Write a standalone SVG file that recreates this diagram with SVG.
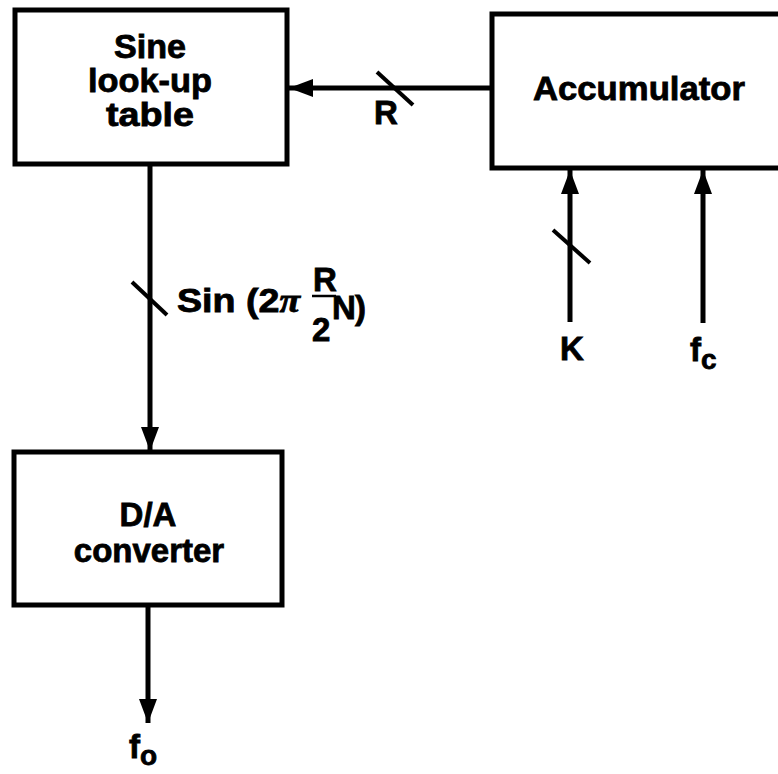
<svg xmlns="http://www.w3.org/2000/svg" width="778" height="774" viewBox="0 0 778 774">
<defs>
<marker id="ah" markerUnits="userSpaceOnUse" markerWidth="24" markerHeight="20" viewBox="0 0 24 20" refX="24" refY="10" orient="auto">
<path d="M0,1 L24,10 L0,19 Z" fill="#000"/>
</marker>
<style>
.box{fill:#fff;stroke:#000;stroke-width:5}
.t{font-family:"Liberation Sans",Arial,Helvetica,sans-serif;font-weight:bold;font-size:33px;fill:#000;stroke:#000;stroke-width:0.8;text-anchor:middle}
.l{font-family:"Liberation Sans",Arial,Helvetica,sans-serif;font-weight:bold;font-size:33px;fill:#000;stroke:#000;stroke-width:0.8}
.w{stroke:#000;stroke-width:5;fill:none}
.s{stroke:#000;stroke-width:4;fill:none}
</style>
</defs>
<rect width="778" height="774" fill="#fff"/>
<g id="connectors">
<line class="w" x1="492" y1="88" x2="289" y2="88" marker-end="url(#ah)"/>
<line class="s" x1="377" y1="72" x2="413" y2="105"/>
<line class="w" x1="150" y1="164" x2="150" y2="451" marker-end="url(#ah)"/>
<line class="s" x1="132" y1="282" x2="167" y2="315"/>
<line class="w" x1="148" y1="606" x2="148" y2="723" marker-end="url(#ah)"/>
<line class="w" x1="570" y1="322" x2="570" y2="170" marker-end="url(#ah)"/>
<line class="s" x1="553" y1="230" x2="590" y2="263"/>
<line class="w" x1="703" y1="323" x2="703" y2="170" marker-end="url(#ah)"/>
</g>
<g id="sine">
<rect class="box" x="15" y="10" width="272" height="154"/>
<text class="t" x="150" y="58" font-size="30" textLength="72" lengthAdjust="spacingAndGlyphs">Sine</text>
<text class="t" x="150" y="92" font-size="30" textLength="124" lengthAdjust="spacingAndGlyphs">look-up</text>
<text class="t" x="150" y="126" font-size="30" textLength="88" lengthAdjust="spacingAndGlyphs">table</text>
</g>
<g id="accumulator">
<rect class="box" x="492" y="14" width="300" height="154"/>
<text class="t" x="639" y="100" textLength="212" lengthAdjust="spacingAndGlyphs">Accumulator</text>
</g>
<g id="da">
<rect class="box" x="14" y="452" width="268" height="153"/>
<text class="t" x="148" y="526">D/A</text>
<text class="t" x="149" y="562">converter</text>
</g>
<g id="labels">
<text class="l" x="374" y="124">R</text>
<text class="l" x="177" y="312" textLength="123" lengthAdjust="spacingAndGlyphs">Sin (2<tspan font-style="italic" font-family="Liberation Serif, serif">π</tspan></text>
<text class="l" x="313" y="291" font-size="27">R</text>
<line x1="312" y1="296" x2="336" y2="296" stroke="#000" stroke-width="2.5"/>
<text class="l" x="312" y="341" font-size="32">2</text>
<text class="l" x="332" y="319" font-size="25">N</text>
<text class="l" x="355" y="319" font-size="27">)</text>
<text class="l" x="560" y="360">K</text>
<text class="l" x="690" y="361">f<tspan font-size="28" dy="8">c</tspan></text>
<text class="l" x="129" y="758">f<tspan font-size="28" dy="7">o</tspan></text>
</g>
</svg>
